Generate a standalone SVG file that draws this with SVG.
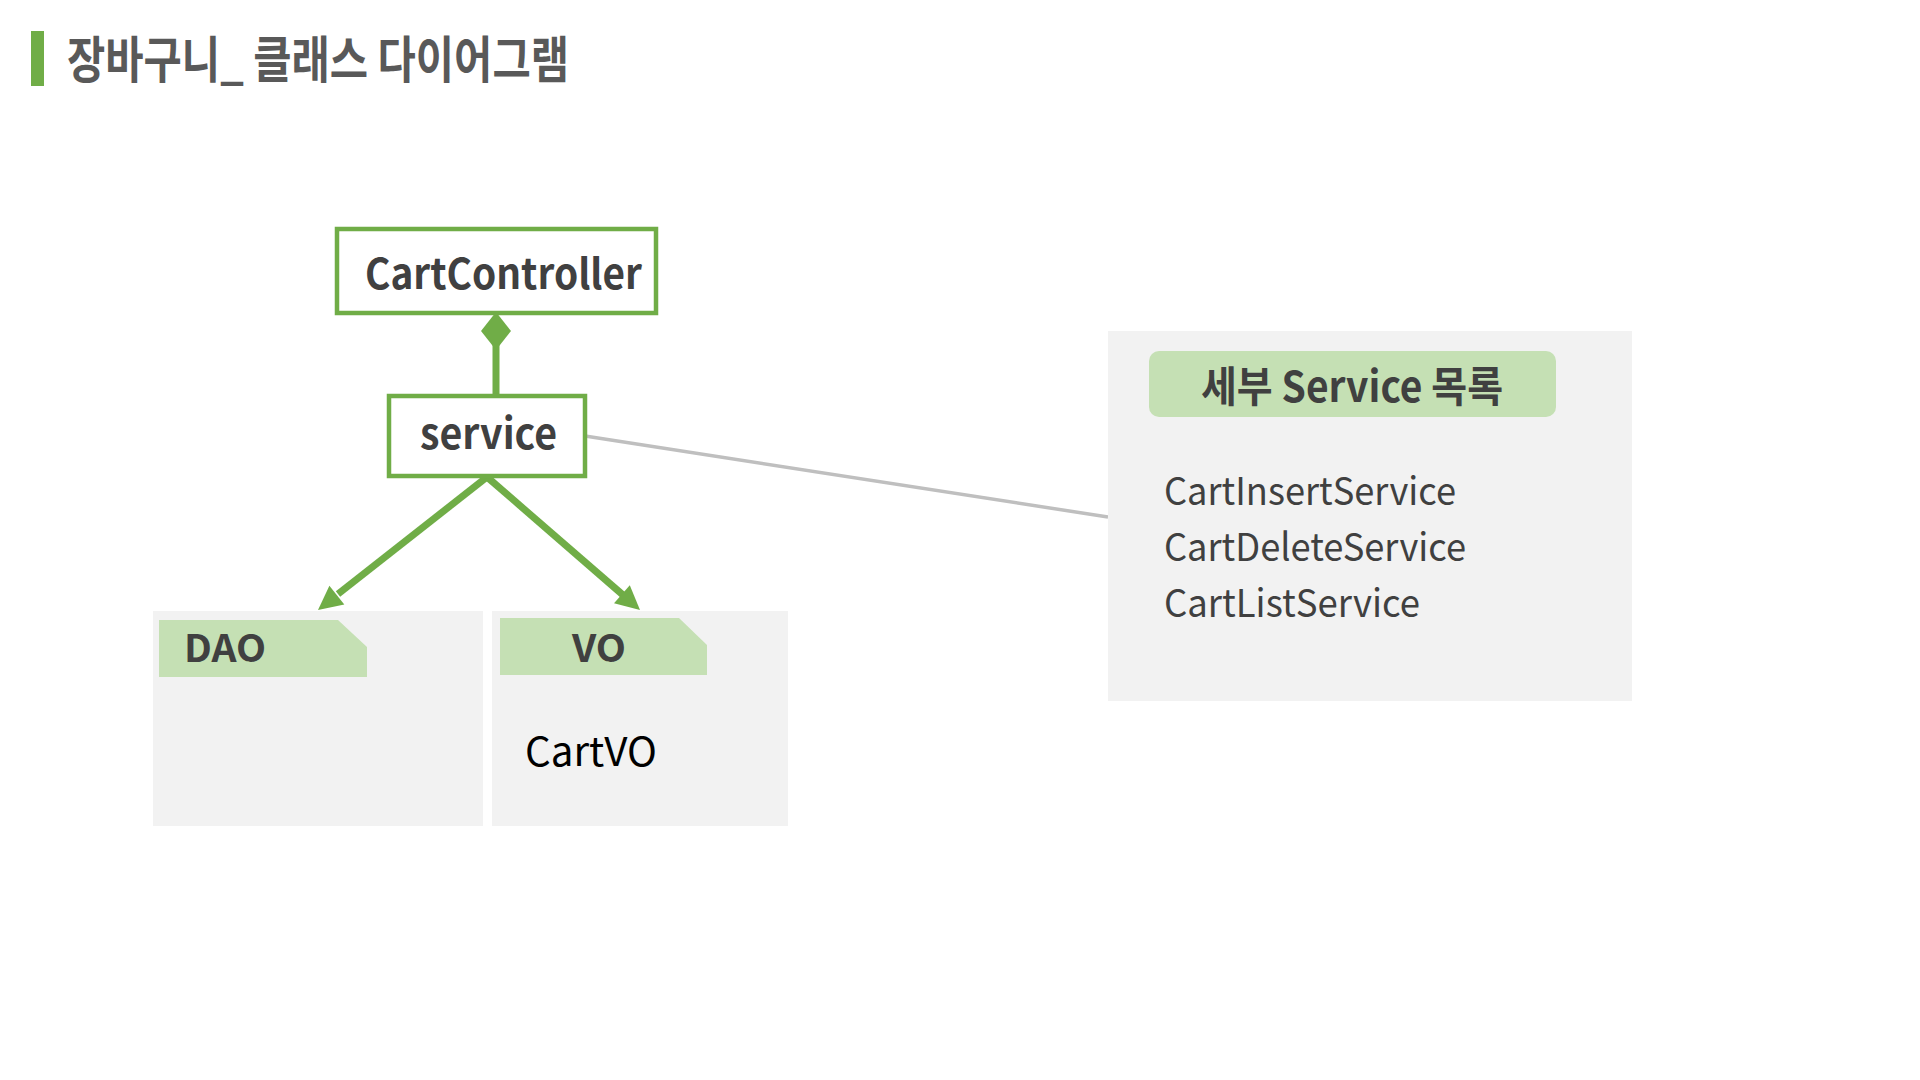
<svg xmlns="http://www.w3.org/2000/svg" width="1920" height="1080" viewBox="0 0 1920 1080">
<defs>
<style>
.t{font-family:"Noto Sans CJK KR","Noto Sans",sans-serif;}
.b{font-weight:700;}
.box{fill:#FFFFFF;stroke:#70AD47;stroke-width:4.5;}
.panel{fill:#F2F2F2;}
.tab{fill:#C5E0B4;}
.g{stroke:#70AD47;stroke-width:7;fill:none;}
.head{fill:#70AD47;}
</style>
</defs>
<rect width="1920" height="1080" fill="#FFFFFF"/>
<g id="title">
<rect x="31" y="31" width="13" height="55" fill="#70AD47"/>
<text class="t b" x="67" y="78" font-size="50" fill="#595959" textLength="502" lengthAdjust="spacingAndGlyphs">장바구니_ 클래스 다이어그램</text>
</g>
<g id="connectors">
<line x1="496" y1="394" x2="496" y2="345" class="g"/>
<path class="head" d="M496,312 L511,331 L496,350 L481,331 Z"/>
<line x1="487" y1="477" x2="338" y2="594" class="g"/>
<path class="head" d="M318,610 L344.3,604.6 L329.4,585.7 Z"/>
<line x1="487" y1="477" x2="623" y2="595" class="g"/>
<path class="head" d="M640,610 L614,603.3 L629.8,585.2 Z"/>
<line x1="585" y1="436" x2="1108" y2="517" stroke="#BFBFBF" stroke-width="3.5"/>
</g>
<g id="CartController">
<rect class="box" x="337" y="229" width="319" height="84"/>
<text class="t b" x="365" y="289" font-size="42" fill="#404040" textLength="277" lengthAdjust="spacingAndGlyphs">CartController</text>
</g>
<g id="service">
<rect class="box" x="389" y="396" width="196" height="80"/>
<text class="t b" x="420" y="449" font-size="42" fill="#404040" textLength="137" lengthAdjust="spacingAndGlyphs">service</text>
</g>
<g id="DAO">
<rect class="panel" x="153" y="611" width="330" height="215"/>
<path class="tab" d="M159,620 L338,620 L367,647 L367,677 L159,677 Z"/>
<text class="t b" x="184" y="662" font-size="38" fill="#404040" textLength="82" lengthAdjust="spacingAndGlyphs">DAO</text>
</g>
<g id="VO">
<rect class="panel" x="492" y="611" width="296" height="215"/>
<path class="tab" d="M500,618 L679,618 L707,645 L707,675 L500,675 Z"/>
<text class="t b" x="572" y="662" font-size="38" fill="#404040" textLength="54" lengthAdjust="spacingAndGlyphs">VO</text>
<text class="t" x="525" y="766" font-size="40" fill="#000000" textLength="132" lengthAdjust="spacingAndGlyphs">CartVO</text>
</g>
<g id="ServiceList">
<rect class="panel" x="1108" y="331" width="524" height="370"/>
<rect class="tab" x="1149" y="351" width="407" height="66" rx="10"/>
<text class="t b" x="1201" y="402" font-size="42" fill="#404040" textLength="302" lengthAdjust="spacingAndGlyphs">세부 Service 목록</text>
<text class="t" x="1164" y="505" font-size="38" fill="#404040" textLength="292" lengthAdjust="spacingAndGlyphs">CartInsertService</text>
<text class="t" x="1164" y="561" font-size="38" fill="#404040" textLength="302" lengthAdjust="spacingAndGlyphs">CartDeleteService</text>
<text class="t" x="1164" y="617" font-size="38" fill="#404040" textLength="256" lengthAdjust="spacingAndGlyphs">CartListService</text>
</g>
</svg>
